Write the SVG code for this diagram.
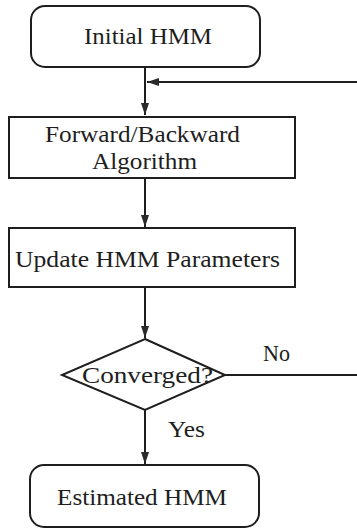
<svg xmlns="http://www.w3.org/2000/svg" width="357" height="529" viewBox="0 0 357 529">
  <style>
    .box { fill: #ffffff; stroke: #1e1e1e; stroke-width: 2; }
    .edge { fill: none; stroke: #1e1e1e; stroke-width: 2; }
    text { font-family: "Liberation Serif", "DejaVu Serif", serif; font-size: 23px; fill: #1e1e1e; }
  </style>
  <defs>
    <marker id="arrow" viewBox="0 0 12 8" refX="12" refY="4" markerWidth="12" markerHeight="8" markerUnits="userSpaceOnUse" orient="auto">
      <path d="M0,0 L12,4 L0,8 Z" fill="#2a2a2a"/>
    </marker>
  </defs>
  <rect width="357" height="529" fill="#ffffff"/>

  <g id="connectors">
    <line class="edge" x1="145" y1="67" x2="145" y2="115" marker-end="url(#arrow)"/>
    <line class="edge" x1="357" y1="82" x2="147" y2="82" marker-end="url(#arrow)"/>
    <line class="edge" x1="145" y1="178" x2="145" y2="227" marker-end="url(#arrow)"/>
    <line class="edge" x1="145" y1="287" x2="145" y2="338" marker-end="url(#arrow)"/>
    <polyline class="edge" points="225,375 357,375"/>
    <line class="edge" x1="145" y1="410" x2="145" y2="464" marker-end="url(#arrow)"/>
    <text x="263" y="361" textLength="27" lengthAdjust="spacingAndGlyphs">No</text>
    <text x="168" y="437" textLength="37" lengthAdjust="spacingAndGlyphs">Yes</text>
  </g>

  <g id="initial-hmm">
    <rect class="box" x="31" y="6" width="229" height="61" rx="14" ry="14"/>
    <text x="84" y="44" textLength="128" lengthAdjust="spacingAndGlyphs">Initial HMM</text>
  </g>

  <g id="forward-backward">
    <rect class="box" x="9" y="117" width="286" height="61"/>
    <text x="45" y="142" textLength="195" lengthAdjust="spacingAndGlyphs">Forward/Backward</text>
    <text x="92" y="169" textLength="105" lengthAdjust="spacingAndGlyphs">Algorithm</text>
  </g>

  <g id="update-parameters">
    <rect class="box" x="9" y="228" width="286" height="59"/>
    <text x="15" y="267" textLength="265" lengthAdjust="spacingAndGlyphs">Update HMM Parameters</text>
  </g>

  <g id="converged">
    <polygon class="box" points="145,339 225,375 145,410 62,375"/>
    <text x="82" y="383" textLength="131" lengthAdjust="spacingAndGlyphs">Converged?</text>
  </g>

  <g id="estimated-hmm">
    <rect class="box" x="30" y="465" width="229" height="62" rx="14" ry="14"/>
    <text x="57" y="505" textLength="170" lengthAdjust="spacingAndGlyphs">Estimated HMM</text>
  </g>
</svg>
